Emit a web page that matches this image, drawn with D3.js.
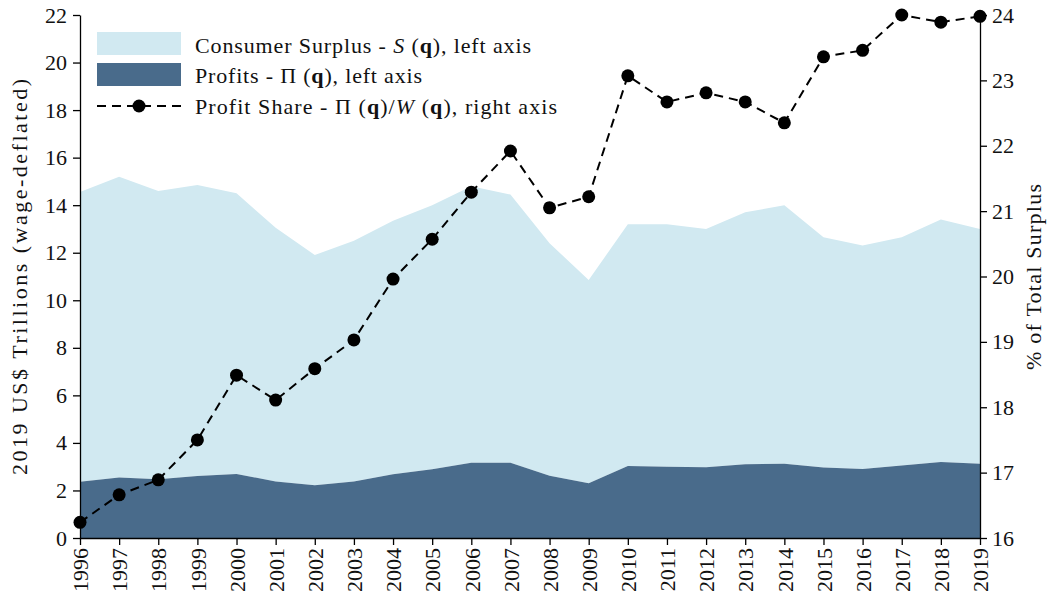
<!DOCTYPE html>
<html><head><meta charset="utf-8">
<script src="https://cdn.jsdelivr.net/npm/d3@7"></script>
<style>body{margin:0;background:#fff}svg{display:block}text{font-family:"Liberation Serif","DejaVu Serif",serif;fill:#111}</style>
</head><body><svg id="c" width="1048" height="600"></svg>
<script>
const years = [1996,1997,1998,1999,2000,2001,2002,2003,2004,2005,2006,2007,2008,2009,2010,2011,2012,2013,2014,2015,2016,2017,2018,2019];
const totalSurplus = [14.55,15.2,14.6,14.85,14.5,13.05,11.9,12.5,13.35,14.0,14.8,14.45,12.4,10.85,13.2,13.2,13.0,13.7,14.0,12.65,12.3,12.65,13.4,13.0];
const profits = [2.37,2.54,2.47,2.61,2.69,2.38,2.22,2.38,2.68,2.89,3.17,3.17,2.62,2.3,3.03,3.0,2.98,3.1,3.12,2.97,2.9,3.05,3.2,3.12];
const profitShare = [16.24,16.66,16.89,17.5,18.49,18.11,18.59,19.03,19.96,20.57,21.29,21.92,21.05,21.22,23.07,22.67,22.81,22.67,22.35,23.36,23.46,24.0,23.89,23.98];
const leftTicks = [0,2,4,6,8,10,12,14,16,18,20,22];
const rightTicks = [16,17,18,19,20,21,22,23,24];

const svg = d3.select("#c");
const L=80,R=980,T=15,B=538;
const x = d3.scaleLinear().domain([1996,2019]).range([L,R]);
const yL = d3.scaleLinear().domain([0,22]).range([B,T]);
const yR = d3.scaleLinear().domain([16,24]).range([B,T]);
const cLight="#d1e9f1", cDark="#496b8b";

const data = years.map((y,i)=>({y, tot: totalSurplus[i], p: profits[i], s: profitShare[i]}));
svg.append("path").datum(data).attr("fill",cLight)
  .attr("d", d3.area().x(d=>x(d.y)).y0(d=>yL(d.p)).y1(d=>yL(d.tot)));
svg.append("path").datum(data).attr("fill",cDark)
  .attr("d", d3.area().x(d=>x(d.y)).y0(yL(0)).y1(d=>yL(d.p)));

svg.append("path").datum(data).attr("fill","none").attr("stroke","#000").attr("stroke-width",2)
  .attr("stroke-dasharray","9,6")
  .attr("d", d3.line().x(d=>x(d.y)).y(d=>yR(d.s)));
svg.selectAll("circle.m").data(data).enter().append("circle")
  .attr("cx",d=>x(d.y)).attr("cy",d=>yR(d.s)).attr("r",6.5).attr("fill","#000");

const fs = 22;
const ax = (g)=>{g.selectAll(".domain").attr("stroke","#000").attr("stroke-width",1.3);
  g.selectAll(".tick line").attr("stroke","#000").attr("stroke-width",1.3);
  g.selectAll("text").style("font-family",'"Liberation Serif",serif').style("font-size",fs+"px").attr("fill","#111");};

const gl = svg.append("g").attr("transform",`translate(${L},0)`)
  .call(d3.axisLeft(yL).tickValues(leftTicks).tickSize(7).tickPadding(6).tickSizeOuter(0)).call(ax);
const gr = svg.append("g").attr("transform",`translate(${R},0)`)
  .call(d3.axisRight(yR).tickValues(rightTicks).tickSize(7).tickPadding(5).tickSizeOuter(0)).call(ax);
const gb = svg.append("g").attr("transform",`translate(0,${B})`)
  .call(d3.axisBottom(x).tickValues(years).tickFormat(d3.format("d")).tickSize(7).tickSizeOuter(0)).call(ax);
gb.selectAll("text").attr("transform","rotate(-90)").attr("text-anchor","end")
  .attr("x",-10).attr("y",0).attr("dy","0.35em");

svg.append("text").attr("transform",`translate(27,277) rotate(-90)`).attr("text-anchor","middle")
  .style("font-size",fs+"px").attr("textLength",396).attr("lengthAdjust","spacing")
  .text("2019 US$ Trillions (wage-deflated)");
svg.append("text").attr("transform",`translate(1041,277) rotate(-90)`).attr("text-anchor","middle")
  .style("font-size",fs+"px").attr("textLength",186).attr("lengthAdjust","spacing")
  .text("% of Total Surplus");

// legend
const lg = svg.append("g");
lg.append("rect").attr("x",97).attr("y",32).attr("width",84).attr("height",23).attr("fill",cLight);
lg.append("rect").attr("x",97).attr("y",63).attr("width",84).attr("height",23).attr("fill",cDark);
lg.append("line").attr("x1",97).attr("x2",181).attr("y1",106).attr("y2",106).attr("stroke","#000").attr("stroke-width",2).attr("stroke-dasharray","9,6");
lg.append("circle").attr("cx",139).attr("cy",106).attr("r",6.5).attr("fill","#000");
function legText(y, len, parts){
  const t = lg.append("text").attr("x",195).attr("y",y).style("font-size",fs+"px")
    .attr("textLength",len).attr("lengthAdjust","spacing");
  parts.forEach(p=>{const s=t.append("tspan").text(p[0]); if(p[1]==="i") s.style("font-style","italic"); if(p[1]==="b") s.style("font-weight","bold");});
}
legText(53,336,[["Consumer Surplus - "],["S","i"],[" ("],["q","b"],["), left axis"]]);
legText(83,227,[["Profits - Π ("],["q","b"],["), left axis"]]);
legText(114,362,[["Profit Share - Π ("],["q","b"],[")/"],["W","i"],[" ("],["q","b"],["), right axis"]]);
</script></body></html>
